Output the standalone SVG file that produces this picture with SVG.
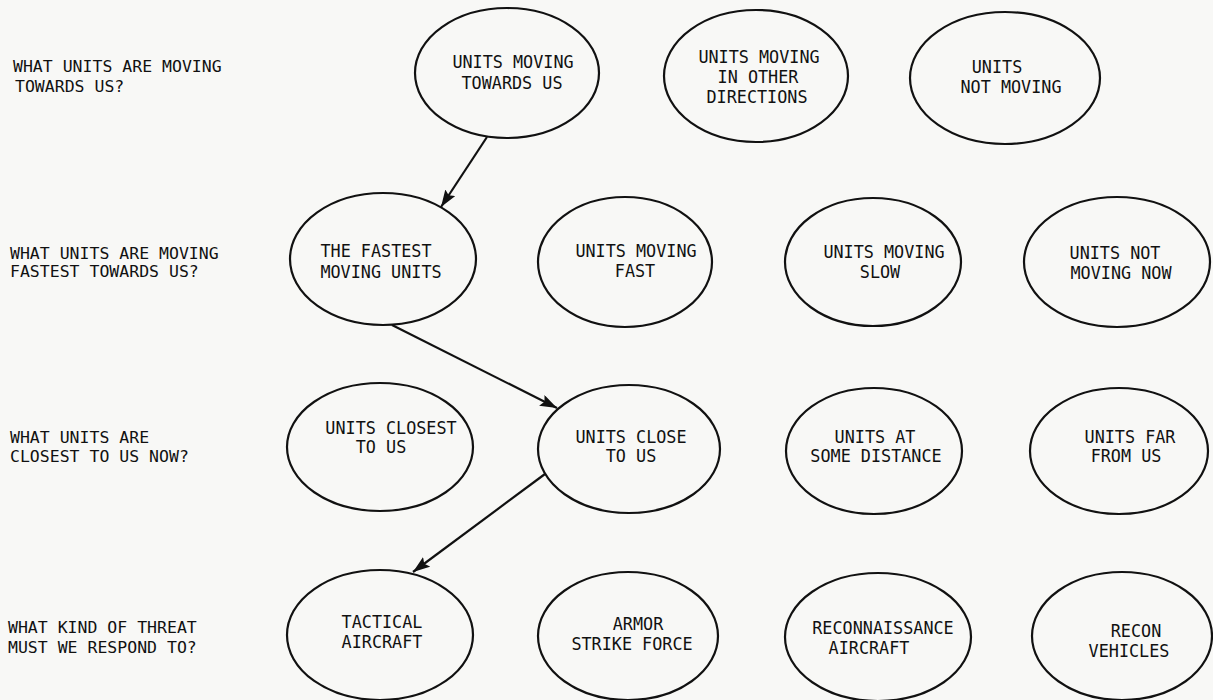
<svg xmlns="http://www.w3.org/2000/svg" width="1213" height="700" viewBox="0 0 1213 700">
<defs>
<style>
.bg{fill:#f8f8f6}
.node ellipse{fill:none;stroke:#111;stroke-width:2.2}
.t{font-family:"DejaVu Sans Mono","Liberation Mono",monospace;font-size:16.8px;fill:#111;text-anchor:middle}
.q{font-family:"DejaVu Sans Mono","Liberation Mono",monospace;font-size:16.5px;fill:#111}
.conn line{stroke:#111;stroke-width:2.2;fill:none}
</style>
<marker id="arr" markerUnits="userSpaceOnUse" markerWidth="18" markerHeight="12" refX="17" refY="6" orient="auto">
<path d="M0,0 L17,6 L0,12 L3,6 Z" fill="#111"/>
</marker>
</defs>
<rect class="bg" x="0" y="0" width="1213" height="700"/>

<g id="questions">
<text class="q" x="13" y="72">WHAT UNITS ARE MOVING</text>
<text class="q" x="15" y="92">TOWARDS US?</text>
<text class="q" x="10" y="259">WHAT UNITS ARE MOVING</text>
<text class="q" x="10" y="277">FASTEST TOWARDS US?</text>
<text class="q" x="10" y="443">WHAT UNITS ARE</text>
<text class="q" x="10" y="462">CLOSEST TO US NOW?</text>
<text class="q" x="8" y="633">WHAT KIND OF THREAT</text>
<text class="q" x="8" y="653">MUST WE RESPOND TO?</text>
</g>

<g id="n-towards" class="node"><ellipse cx="507" cy="73" rx="92" ry="65"/>
<text class="t" x="513" y="68">UNITS MOVING</text><text class="t" x="512" y="89">TOWARDS US</text></g>
<g id="n-other" class="node"><ellipse cx="756" cy="76" rx="92" ry="66"/>
<text class="t" x="759" y="63">UNITS MOVING</text><text class="t" x="758" y="83">IN OTHER</text><text class="t" x="757" y="103">DIRECTIONS</text></g>
<g id="n-notmoving" class="node"><ellipse cx="1005" cy="78" rx="95" ry="66"/>
<text class="t" x="997" y="73">UNITS</text><text class="t" x="1011" y="93">NOT MOVING</text></g>

<g id="n-fastest" class="node"><ellipse cx="383" cy="259" rx="93" ry="66"/>
<text class="t" x="376" y="257">THE FASTEST</text><text class="t" x="381" y="278">MOVING UNITS</text></g>
<g id="n-fast" class="node"><ellipse cx="625" cy="262" rx="87" ry="65"/>
<text class="t" x="636" y="257">UNITS MOVING</text><text class="t" x="635" y="277">FAST</text></g>
<g id="n-slow" class="node"><ellipse cx="873" cy="262" rx="88" ry="64"/>
<text class="t" x="884" y="258">UNITS MOVING</text><text class="t" x="880" y="278">SLOW</text></g>
<g id="n-notnow" class="node"><ellipse cx="1117" cy="262" rx="93" ry="65"/>
<text class="t" x="1115" y="259">UNITS NOT</text><text class="t" x="1121" y="279">MOVING NOW</text></g>

<g id="n-closest" class="node"><ellipse cx="380" cy="447" rx="93" ry="64"/>
<text class="t" x="391" y="434">UNITS CLOSEST</text><text class="t" x="381" y="453">TO US</text></g>
<g id="n-close" class="node"><ellipse cx="629" cy="449" rx="91" ry="64"/>
<text class="t" x="631" y="443">UNITS CLOSE</text><text class="t" x="631" y="462">TO US</text></g>
<g id="n-distance" class="node"><ellipse cx="874" cy="451" rx="88" ry="63"/>
<text class="t" x="875" y="443">UNITS AT</text><text class="t" x="876" y="462">SOME DISTANCE</text></g>
<g id="n-far" class="node"><ellipse cx="1119" cy="451" rx="89" ry="63"/>
<text class="t" x="1130" y="443">UNITS FAR</text><text class="t" x="1126" y="462">FROM US</text></g>

<g id="n-tactical" class="node"><ellipse cx="380" cy="635" rx="93" ry="65"/>
<text class="t" x="382" y="628">TACTICAL</text><text class="t" x="382" y="648">AIRCRAFT</text></g>
<g id="n-armor" class="node"><ellipse cx="628" cy="636" rx="90" ry="64"/>
<text class="t" x="638" y="630">ARMOR</text><text class="t" x="632" y="650">STRIKE FORCE</text></g>
<g id="n-recce" class="node"><ellipse cx="878" cy="637" rx="93" ry="64"/>
<text class="t" x="883" y="634">RECONNAISSANCE</text><text class="t" x="869" y="654">AIRCRAFT</text></g>
<g id="n-vehicles" class="node"><ellipse cx="1122" cy="636" rx="90" ry="64"/>
<text class="t" x="1136" y="637">RECON</text><text class="t" x="1129" y="657">VEHICLES</text></g>

<g id="connectors" class="conn">
<line x1="487" y1="137" x2="441" y2="207" marker-end="url(#arr)"/>
<line x1="392" y1="325" x2="557" y2="408" marker-end="url(#arr)"/>
<line x1="545" y1="474" x2="413" y2="572" marker-end="url(#arr)"/>
</g>
</svg>
